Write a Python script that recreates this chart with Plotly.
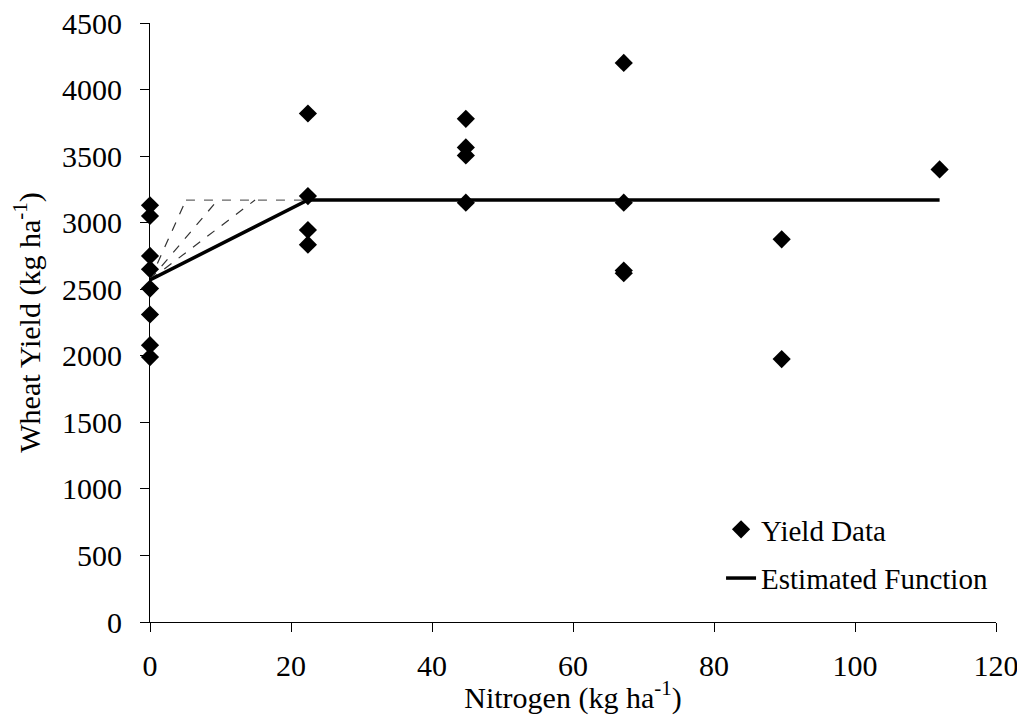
import plotly.graph_objects as go

# Observed yield data
nitrogen = [0, 0, 0, 0, 0, 0, 0, 0,
            22.4, 22.4, 22.4, 22.4,
            44.8, 44.8, 44.8, 44.8,
            67.2, 67.2, 67.2, 67.2,
            89.6, 89.6,
            112]
yield_kg = [3130, 3050, 2750, 2650, 2505, 2310, 2080, 1990,
            3820, 3200, 2945, 2835,
            3780, 3565, 3505, 3150,
            4200, 3150, 2640, 2620,
            2875, 1975,
            3400]

# Estimated linear-plateau function
func_x = [0, 22.4, 112]
func_y = [2570, 3170, 3170]

# Alternative (dashed) response paths
alt_knots = [5.1, 9.6, 14.9]
alt_start = 2570
plateau = 3170
horiz_x = [5.1, 22.4]

FONT = "Liberation Serif"

fig = go.Figure()

for k in alt_knots:
    fig.add_trace(go.Scatter(x=[0, k], y=[alt_start, plateau], mode="lines",
                             line=dict(color="#333333", width=1.2, dash="dash"),
                             showlegend=False, hoverinfo="skip"))
fig.add_trace(go.Scatter(x=horiz_x, y=[plateau, plateau], mode="lines",
                         line=dict(color="#666666", width=1.2, dash="dash"),
                         showlegend=False, hoverinfo="skip"))

fig.add_trace(go.Scatter(x=nitrogen, y=yield_kg, mode="markers", name="Yield Data",
                         marker=dict(symbol="diamond", size=14, color="black"),
                         cliponaxis=False, legendgroup="a"))
fig.add_trace(go.Scatter(x=func_x, y=func_y, mode="lines", name="Estimated Function",
                         line=dict(color="black", width=3.5), legendgroup="b"))

fig.update_layout(
    width=1017, height=707,
    margin=dict(l=142, r=29, t=15, b=93),
    paper_bgcolor="white", plot_bgcolor="white",
    font=dict(family=FONT, size=30, color="black"),
    showlegend=True,
    legend=dict(x=0.675, y=0.197, xanchor="left", yanchor="top",
                bgcolor="rgba(0,0,0,0)", tracegroupgap=8,
                font=dict(family=FONT, size=29, color="black")),
    xaxis=dict(range=[0, 120], tickvals=[0, 20, 40, 60, 80, 100, 120],
               showline=True, linecolor="black", linewidth=1,
               ticks="outside", ticklen=9, tickcolor="black",
               showgrid=False, zeroline=False, automargin=False,
               ticklabelstandoff=8, ticklabeloverflow="allow",
               tickfont=dict(family=FONT, size=30),
               title=dict(text="Nitrogen (kg ha<sup>-1</sup>)", standoff=0,
                          font=dict(family=FONT, size=30))),
    yaxis=dict(range=[0, 4500], tickvals=list(range(0, 4501, 500)),
               showline=True, linecolor="black", linewidth=1,
               ticks="outside", ticklen=9, tickcolor="black",
               showgrid=False, zeroline=False, automargin=False,
               ticklabelstandoff=12, ticklabeloverflow="allow",
               tickfont=dict(family=FONT, size=30),
               title=dict(text="Wheat Yield (kg ha<sup>-1</sup>)", standoff=12,
                          font=dict(family=FONT, size=30))),
)

fig.write_html("out.html")
